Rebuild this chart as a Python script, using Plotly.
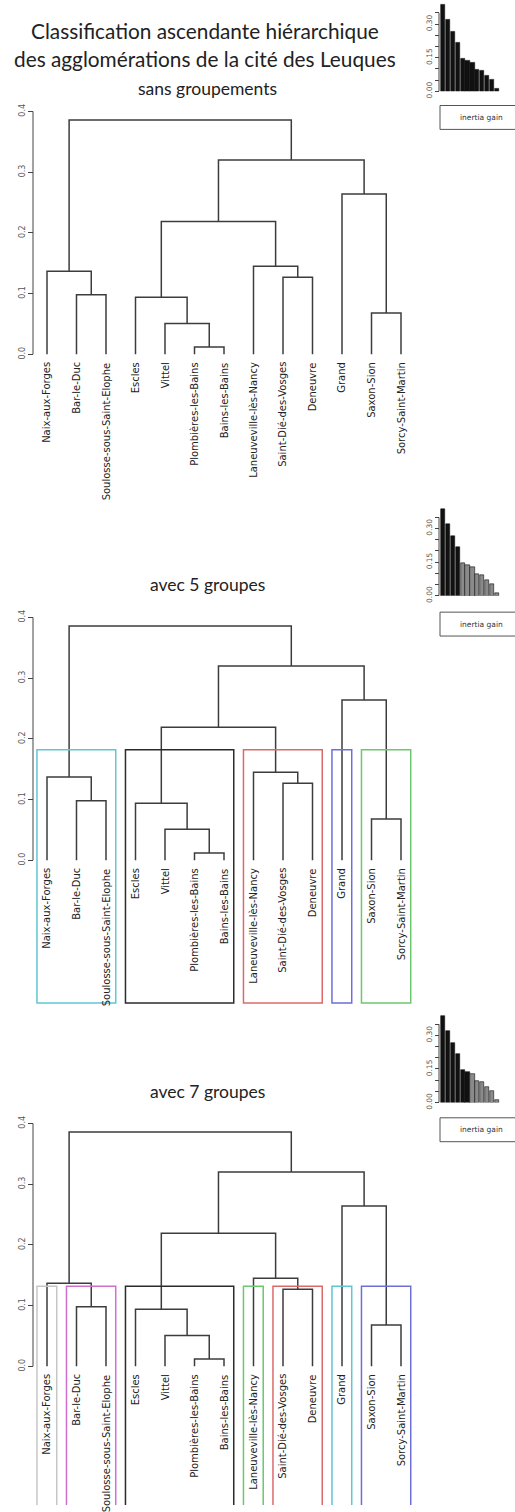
import plotly.graph_objects as go

# Leaves in dendrogram display order
leaf_labels = [
    "Naix-aux-Forges", "Bar-le-Duc", "Soulosse-sous-Saint-Elophe",
    "Escles", "Vittel", "Plombières-les-Bains", "Bains-les-Bains",
    "Laneuveville-lès-Nancy", "Saint-Dié-des-Vosges", "Deneuvre",
    "Grand", "Saxon-Sion", "Sorcy-Saint-Martin",
]

# Agglomeration steps (R hclust convention: negative = leaf position, positive = earlier step)
merge_left = [-6, -5, -12, -4, -2, -9, -1, -8, 4, -11, 9, 7]
merge_right = [-7, 1, -13, 2, -3, -10, 5, 6, 8, 3, 10, 11]
merge_height = [0.012, 0.051, 0.068, 0.094, 0.098, 0.127, 0.137, 0.145, 0.219, 0.264, 0.320, 0.386]

# Cluster membership for the cut trees
groups_5 = [1, 1, 1, 2, 2, 2, 2, 3, 3, 3, 4, 5, 5]
groups_7 = [1, 2, 2, 3, 3, 3, 3, 4, 5, 5, 6, 7, 7]
colors_5 = ["#5fc6d3", "#2b2b2b", "#dc6a6a", "#6e6ed8", "#6cc86c"]
colors_7 = ["#c6c6c6", "#d06fd0", "#2b2b2b", "#6cc86c", "#dc6a6a", "#5fc6d3", "#6e6ed8"]

y_ticks = [0.0, 0.1, 0.2, 0.3, 0.4]
gain_ticks = [0.00, 0.05, 0.10, 0.15, 0.20, 0.25, 0.30, 0.35]
gain_ticktext = ["0.00", "", "", "0.15", "", "", "0.30", ""]

W, H = 515, 1512
FONT_T = "Lato, Open Sans, sans-serif"
FONT_L = "DejaVu Sans, Liberation Sans, sans-serif"


def dom_y(px_top, px_bot):
    return [max(0.0, 1 - px_bot / H), min(1.0, 1 - px_top / H)]


# pixel geometry of the dendrogram panels
LEAF0, STEP = 47.0, 29.5          # first leaf and leaf spacing (px)
SCALE = 610.0                      # px per unit of height
x_range = [1 - LEAF0 / STEP, 1 + (W - LEAF0) / STEP]
rect_bottom = -0.235

panels = [
    dict(zero=356.0, top=98, bot=496, title="sans groupements", title_y=89,
         groups=None, colors=None, gain_base=91.7, box_top=106, nblack=12),
    dict(zero=864.3, top=600, bot=1012, title="avec 5 groupes", title_y=587,
         groups=groups_5, colors=colors_5, gain_base=598.5, box_top=615, nblack=4),
    dict(zero=1372.7, top=1112, bot=1512, title="avec 7 groupes", title_y=1097,
         groups=groups_7, colors=colors_7, gain_base=1107.7, box_top=1123, nblack=6),
]

# dendrogram segment coordinates
node_x, node_y = {}, {}


def pos(ref):
    if ref < 0:
        return float(-ref), 0.0
    return node_x[ref], node_y[ref]


seg_x, seg_y = [], []
for i, (a, b, h) in enumerate(zip(merge_left, merge_right, merge_height), start=1):
    xa, ya = pos(a)
    xb, yb = pos(b)
    seg_x += [xa, xa, xb, xb, None]
    seg_y += [ya, h, h, yb, None]
    node_x[i] = (xa + xb) / 2
    node_y[i] = h

gains = sorted(merge_height, reverse=True)

fig = go.Figure()
layout = dict(width=W, height=H, margin=dict(l=0, r=0, t=0, b=0),
              paper_bgcolor="white", plot_bgcolor="rgba(0,0,0,0)",
              showlegend=False)
shapes, annotations = [], []

# inset bar chart geometry
BAR_L, BAR_R = 440.7, 499.3
bar_unit = (BAR_R - BAR_L) / (len(gains) - 1 + 1 / 1.2)
bar1 = BAR_L + 0.5 / 1.2 * bar_unit
inset_x_range = [1 + (428 - bar1) / bar_unit, 1 + (507 - bar1) / bar_unit]
GAIN_SCALE = 225.0
INSET_H = 90.0

for p_i, p in enumerate(panels):
    n = p_i + 1
    xa, ya = f"x{n if n > 1 else ''}", f"y{n if n > 1 else ''}"
    lay_x, lay_y = f"xaxis{n if n > 1 else ''}", f"yaxis{n if n > 1 else ''}"
    y_range = [(p["zero"] - p["bot"]) / SCALE, (p["zero"] - p["top"]) / SCALE]

    fig.add_trace(go.Scatter(x=seg_x, y=seg_y, mode="lines", xaxis=xa, yaxis=ya,
                             line=dict(color="#3c3c3c", width=1.5), hoverinfo="skip"))
    layout[lay_x] = dict(domain=[0, 1], range=x_range, visible=False, anchor=ya)
    layout[lay_y] = dict(domain=dom_y(p["top"], p["bot"]), range=y_range,
                         anchor="free", position=33 / W, showgrid=False,
                         zeroline=False, showline=False, ticks="outside",
                         ticklen=5, tickwidth=1, tickcolor="#444",
                         tickvals=y_ticks, ticktext=[f"{v:.1f}" for v in y_ticks],
                         tickangle=-90, tickfont=dict(family=FONT_L, size=8, color="#555"))
    shapes.append(dict(type="line", xref="paper", yref=ya, x0=33 / W, x1=33 / W,
                       y0=y_ticks[0], y1=y_ticks[-1], line=dict(color="#444", width=1)))

    # leaf labels
    for j, lab in enumerate(leaf_labels, start=1):
        annotations.append(dict(x=j, y=0, xref=xa, yref=ya, text=lab, showarrow=False,
                                textangle=-90, xanchor="center", yanchor="top", yshift=-6,
                                font=dict(family=FONT_L, size=10, color="#222")))

    # cluster rectangles
    if p["groups"]:
        k = max(p["groups"])
        cut = (gains[k - 2] + gains[k - 1]) / 2
        start = 0
        for g in range(1, k + 1):
            cnt = p["groups"].count(g)
            shapes.append(dict(type="rect", xref=xa, yref=ya,
                               x0=start + 0.66, x1=start + cnt + 0.33,
                               y0=rect_bottom, y1=cut,
                               line=dict(color=p["colors"][g - 1], width=1.5)))
            start += cnt

    # panel subtitle
    annotations.append(dict(x=207 / W, y=1 - p["title_y"] / H, xref="paper", yref="paper",
                            text=p["title"], showarrow=False, xanchor="center", yanchor="middle",
                            font=dict(family=FONT_T, size=17.5, color="#222")))

    # inertia gain inset
    m = n + 3
    ia, ib = f"x{m}", f"y{m}"
    bar_cols = ["#111111" if i < p["nblack"] else "#8a8a8a" for i in range(len(gains))]
    fig.add_trace(go.Bar(x=list(range(1, len(gains) + 1)), y=gains, width=1 / 1.2,
                         marker=dict(color=bar_cols, line=dict(color="#111", width=0.6)),
                         xaxis=ia, yaxis=ib, hoverinfo="skip"))
    top_px = p["gain_base"] - INSET_H
    layout[f"xaxis{m}"] = dict(domain=[428 / W, 507 / W], range=inset_x_range,
                               visible=False, anchor=ib)
    layout[f"yaxis{m}"] = dict(domain=dom_y(top_px, p["gain_base"]),
                               range=[0, INSET_H / GAIN_SCALE], anchor="free", position=439 / W,
                               showgrid=False, zeroline=False, showline=False,
                               ticks="outside", ticklen=4, tickwidth=1, tickcolor="#444",
                               tickvals=gain_ticks, ticktext=gain_ticktext, tickangle=-90,
                               tickfont=dict(family=FONT_L, size=7.5, color="#555"))
    shapes.append(dict(type="line", xref="paper", yref=ib, x0=439 / W, x1=439 / W,
                       y0=gain_ticks[0], y1=gain_ticks[-1], line=dict(color="#444", width=1)))
    bt = p["box_top"]
    shapes.append(dict(type="rect", xref="paper", yref="paper", x0=440 / W, x1=1.05,
                       y0=1 - (bt + 24) / H, y1=1 - bt / H,
                       line=dict(color="#555", width=1)))
    annotations.append(dict(x=481 / W, y=1 - (bt + 12) / H, xref="paper", yref="paper",
                            text="inertia gain", showarrow=False, xanchor="center",
                            yanchor="middle", font=dict(family=FONT_L, size=7.5, color="#333")))

# main title
for txt, ty in [("Classification ascendante hiérarchique", 31),
                ("des agglomérations de la cité des Leuques", 59)]:
    annotations.append(dict(x=205 / W, y=1 - ty / H, xref="paper", yref="paper", text=txt,
                            showarrow=False, xanchor="center", yanchor="middle",
                            font=dict(family=FONT_T, size=20.8, color="#222")))

layout["shapes"] = shapes
layout["annotations"] = annotations
layout["bargap"] = 0
fig.update_layout(**layout)
fig.write_html("out.html")
